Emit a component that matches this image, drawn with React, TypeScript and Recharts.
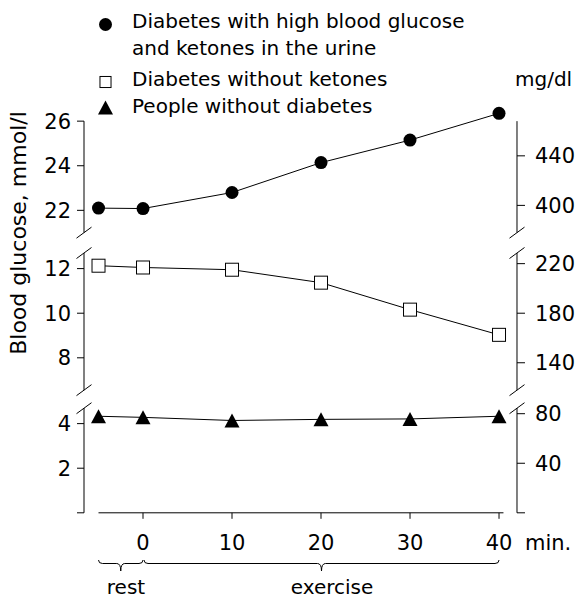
import React from "react";
import { LineChart, Line, XAxis, YAxis, ReferenceLine } from "recharts";

// time points (min) and blood glucose, mmol/l
const minutes = [-5, 0, 10, 20, 30, 40];
const withKetones = [22.1, 22.08, 22.8, 24.14, 25.15, 26.35];
const withoutKetones = [12.13, 12.05, 11.95, 11.37, 10.16, 9.03];
const noDiabetes = [4.33, 4.28, 4.14, 4.19, 4.21, 4.33];

const legendLabels = [
  "Diabetes with high blood glucose",
  "and ketones in the urine",
  "Diabetes without ketones",
  "People without diabetes",
];
const xTicks = [0, 10, 20, 30, 40];
const topTicks = [22, 24, 26];
const midTicks = [8, 10, 12];
const lowTicks = [0, 2, 4];
const topMgTicks = [400, 440];
const midMgTicks = [140, 180, 220];
const lowMgTicks = [0, 40, 80];

const MG_PER_MMOL = 18;

const W = 580;
const H = 601;
const FONT = "'DejaVu Sans', sans-serif";
const PLOT_LEFT = 84;
const PLOT_RIGHT = 517;
const AXIS_W = 60;
const X_DOMAIN: [number, number] = [-6.63, 42.02];
const X_LINE: [number, number] = [-5, 40.5];
const PX_PER_UNIT = 22.3;
const PAD = 12;
const X_AXIS_H = 45;

type Kind = "circle" | "square" | "triangle";

type PanelDef = {
  values: number[];
  domain: [number, number];
  top: number; // pixel row of domain max
  ticks: number[];
  mgTicks: number[];
  marker: Kind;
  axisTo?: number;
  showX?: boolean;
};

const panels: PanelDef[] = [
  { values: withKetones, domain: [21, 26.5], top: 110, ticks: topTicks, mgTicks: topMgTicks, marker: "circle", axisTo: 26 },
  { values: withoutKetones, domain: [6.55, 12.7], top: 253, ticks: midTicks, mgTicks: midMgTicks, marker: "square" },
  { values: noDiabetes, domain: [0, 4.7], top: 408.2, ticks: lowTicks, mgTicks: lowMgTicks, marker: "triangle", showX: true },
];

const xPx = (m: number) =>
  PLOT_LEFT + ((m - X_DOMAIN[0]) * (PLOT_RIGHT - PLOT_LEFT)) / (X_DOMAIN[1] - X_DOMAIN[0]);

const AXIS = { stroke: "#000", strokeWidth: 1 };
const TICK = { fill: "#000", fontSize: 21, fontFamily: FONT };

function Marker({ cx, cy, kind, size = 1 }: { cx: number; cy: number; kind: Kind; size?: number }) {
  if (kind === "circle") return <circle cx={cx} cy={cy} r={6.5 * size} fill="#000" />;
  if (kind === "square") {
    const s = 13 * size;
    return <rect x={cx - s / 2} y={cy - s / 2} width={s} height={s} fill="#fff" stroke="#000" strokeWidth={1} />;
  }
  const w = 7.5 * size;
  const h = 7 * size;
  return <polygon points={`${cx},${cy - h} ${cx + w},${cy + h} ${cx - w},${cy + h}`} fill="#000" />;
}

function MinuteTick(props: any) {
  const { x, y, payload } = props;
  return (
    <g>
      <text x={x} y={y} dy="0.71em" textAnchor="middle" fill="#000" fontSize={21} fontFamily={FONT}>
        {payload.value}
      </text>
      {payload.value === 40 && (
        <text x={x + 26} y={y} dy="0.71em" textAnchor="start" fill="#000" fontSize={21} fontFamily={FONT}>
          min.
        </text>
      )}
    </g>
  );
}

function Panel({ values, domain, top, ticks, mgTicks, marker, axisTo, showX }: PanelDef) {
  const plotH = (domain[1] - domain[0]) * PX_PER_UNIT;
  const below = showX ? H - (top + plotH) : PAD;
  const height = PAD + plotH + below;
  const data = minutes.map((m, i) => ({ min: m, v: values[i] }));
  const customAxis = axisTo !== undefined;
  const fmt = (v: number) => (v === 0 ? "" : String(v));
  return (
    <div style={{ position: "absolute", left: 0, top: top - PAD, width: W, height }}>
      <LineChart
        width={W}
        height={height}
        data={data}
        margin={{ top: PAD, right: W - PLOT_RIGHT - AXIS_W, bottom: showX ? below - X_AXIS_H : below, left: PLOT_LEFT - AXIS_W }}
      >
        <XAxis
          dataKey="min"
          type="number"
          domain={X_DOMAIN}
          ticks={xTicks}
          interval={0}
          hide={!showX}
          height={X_AXIS_H}
          axisLine={false}
          tickLine={AXIS}
          tickSize={6}
          tickMargin={16}
          tick={<MinuteTick />}
        />
        <YAxis
          yAxisId="l"
          width={AXIS_W}
          domain={domain}
          ticks={ticks}
          interval={0}
          axisLine={customAxis ? false : AXIS}
          tickLine={AXIS}
          tickSize={7}
          tickMargin={6}
          tick={TICK}
          tickFormatter={fmt}
        />
        <YAxis
          yAxisId="r"
          orientation="right"
          width={AXIS_W}
          type="number"
          allowDataOverflow
          domain={[domain[0] * MG_PER_MMOL, domain[1] * MG_PER_MMOL]}
          ticks={mgTicks}
          interval={0}
          axisLine={customAxis ? false : AXIS}
          tickLine={AXIS}
          tickSize={8}
          tickMargin={10}
          tick={TICK}
          tickFormatter={fmt}
        />
        {customAxis && (
          <ReferenceLine
            yAxisId="l"
            ifOverflow="visible"
            stroke="#000"
            segment={[{ x: X_DOMAIN[0], y: domain[0] }, { x: X_DOMAIN[0], y: axisTo }]}
          />
        )}
        {customAxis && (
          <ReferenceLine
            yAxisId="l"
            ifOverflow="visible"
            stroke="#000"
            segment={[{ x: X_DOMAIN[1], y: domain[0] }, { x: X_DOMAIN[1], y: axisTo }]}
          />
        )}
        {showX && (
          <ReferenceLine
            yAxisId="l"
            ifOverflow="visible"
            stroke="#000"
            segment={[{ x: X_LINE[0], y: 0 }, { x: X_LINE[1], y: 0 }]}
          />
        )}
        <Line
          yAxisId="l"
          dataKey="v"
          type="linear"
          stroke="#000"
          strokeWidth={1}
          isAnimationActive={false}
          dot={(p: any) => <Marker key={`m-${p.index}`} cx={p.cx} cy={p.cy} kind={marker} />}
          activeDot={false}
        />
      </LineChart>
    </div>
  );
}

function bracePath(a: number, b: number) {
  const top = 560;
  const mid = 563.5;
  const tip = 571;
  const c = (a + b) / 2;
  return `M${a},${top} Q${a},${mid} ${a + 4},${mid} L${c - 4},${mid} Q${c},${mid} ${c},${tip} Q${c},${mid} ${c + 4},${mid} L${b - 4},${mid} Q${b},${mid} ${b},${top}`;
}

function Overlay() {
  const breaks: number[] = [];
  panels.forEach((p) => {
    const bottom = p.top + (p.domain[1] - p.domain[0]) * PX_PER_UNIT;
    if (p.domain[0] > 0) breaks.push(bottom);
    if (p.axisTo === undefined) breaks.push(p.top);
  });
  const markers: Kind[] = ["circle", "square", "triangle"];
  const markerY = [24.5, 82, 107.5];
  const textY = [28, 55, 86, 113];
  return (
    <svg width={W} height={H} style={{ position: "absolute", left: 0, top: 0, pointerEvents: "none" }}>
      {markers.map((k, i) => (
        <Marker key={k} cx={105.5} cy={markerY[i]} kind={k} size={k === "square" ? 0.85 : 1} />
      ))}
      {legendLabels.map((t, i) => (
        <text key={t} x={132} y={textY[i]} fontSize={20} fontFamily={FONT} fill="#000">
          {t}
        </text>
      ))}
      <text x={515} y={86} fontSize={20} fontFamily={FONT} fill="#000">
        mg/dl
      </text>
      <text transform="translate(26,233) rotate(-90)" textAnchor="middle" fontSize={22} fontFamily={FONT} fill="#000">
        Blood glucose, mmol/l
      </text>
      {breaks.map((y) =>
        [PLOT_LEFT, PLOT_RIGHT].map((x) => (
          <line key={`${x}-${y}`} x1={x - 7.5} y1={y + 5.5} x2={x + 7.5} y2={y - 5.5} stroke="#000" strokeWidth={1} />
        ))
      )}
      <path d={bracePath(xPx(-5), xPx(0))} fill="none" stroke="#000" strokeWidth={1} />
      <path d={bracePath(xPx(0) + 1, xPx(40))} fill="none" stroke="#000" strokeWidth={1} />
      <text x={126} y={594} textAnchor="middle" fontSize={20} fontFamily={FONT} fill="#000">
        rest
      </text>
      <text x={332} y={594} textAnchor="middle" fontSize={20} fontFamily={FONT} fill="#000">
        exercise
      </text>
    </svg>
  );
}

export default function App() {
  return (
    <div style={{ position: "absolute", left: 0, top: 0, width: W, height: H, background: "#fff", fontFamily: FONT }}>
      {panels.map((p) => (
        <Panel key={p.marker} {...p} />
      ))}
      <Overlay />
    </div>
  );
}
